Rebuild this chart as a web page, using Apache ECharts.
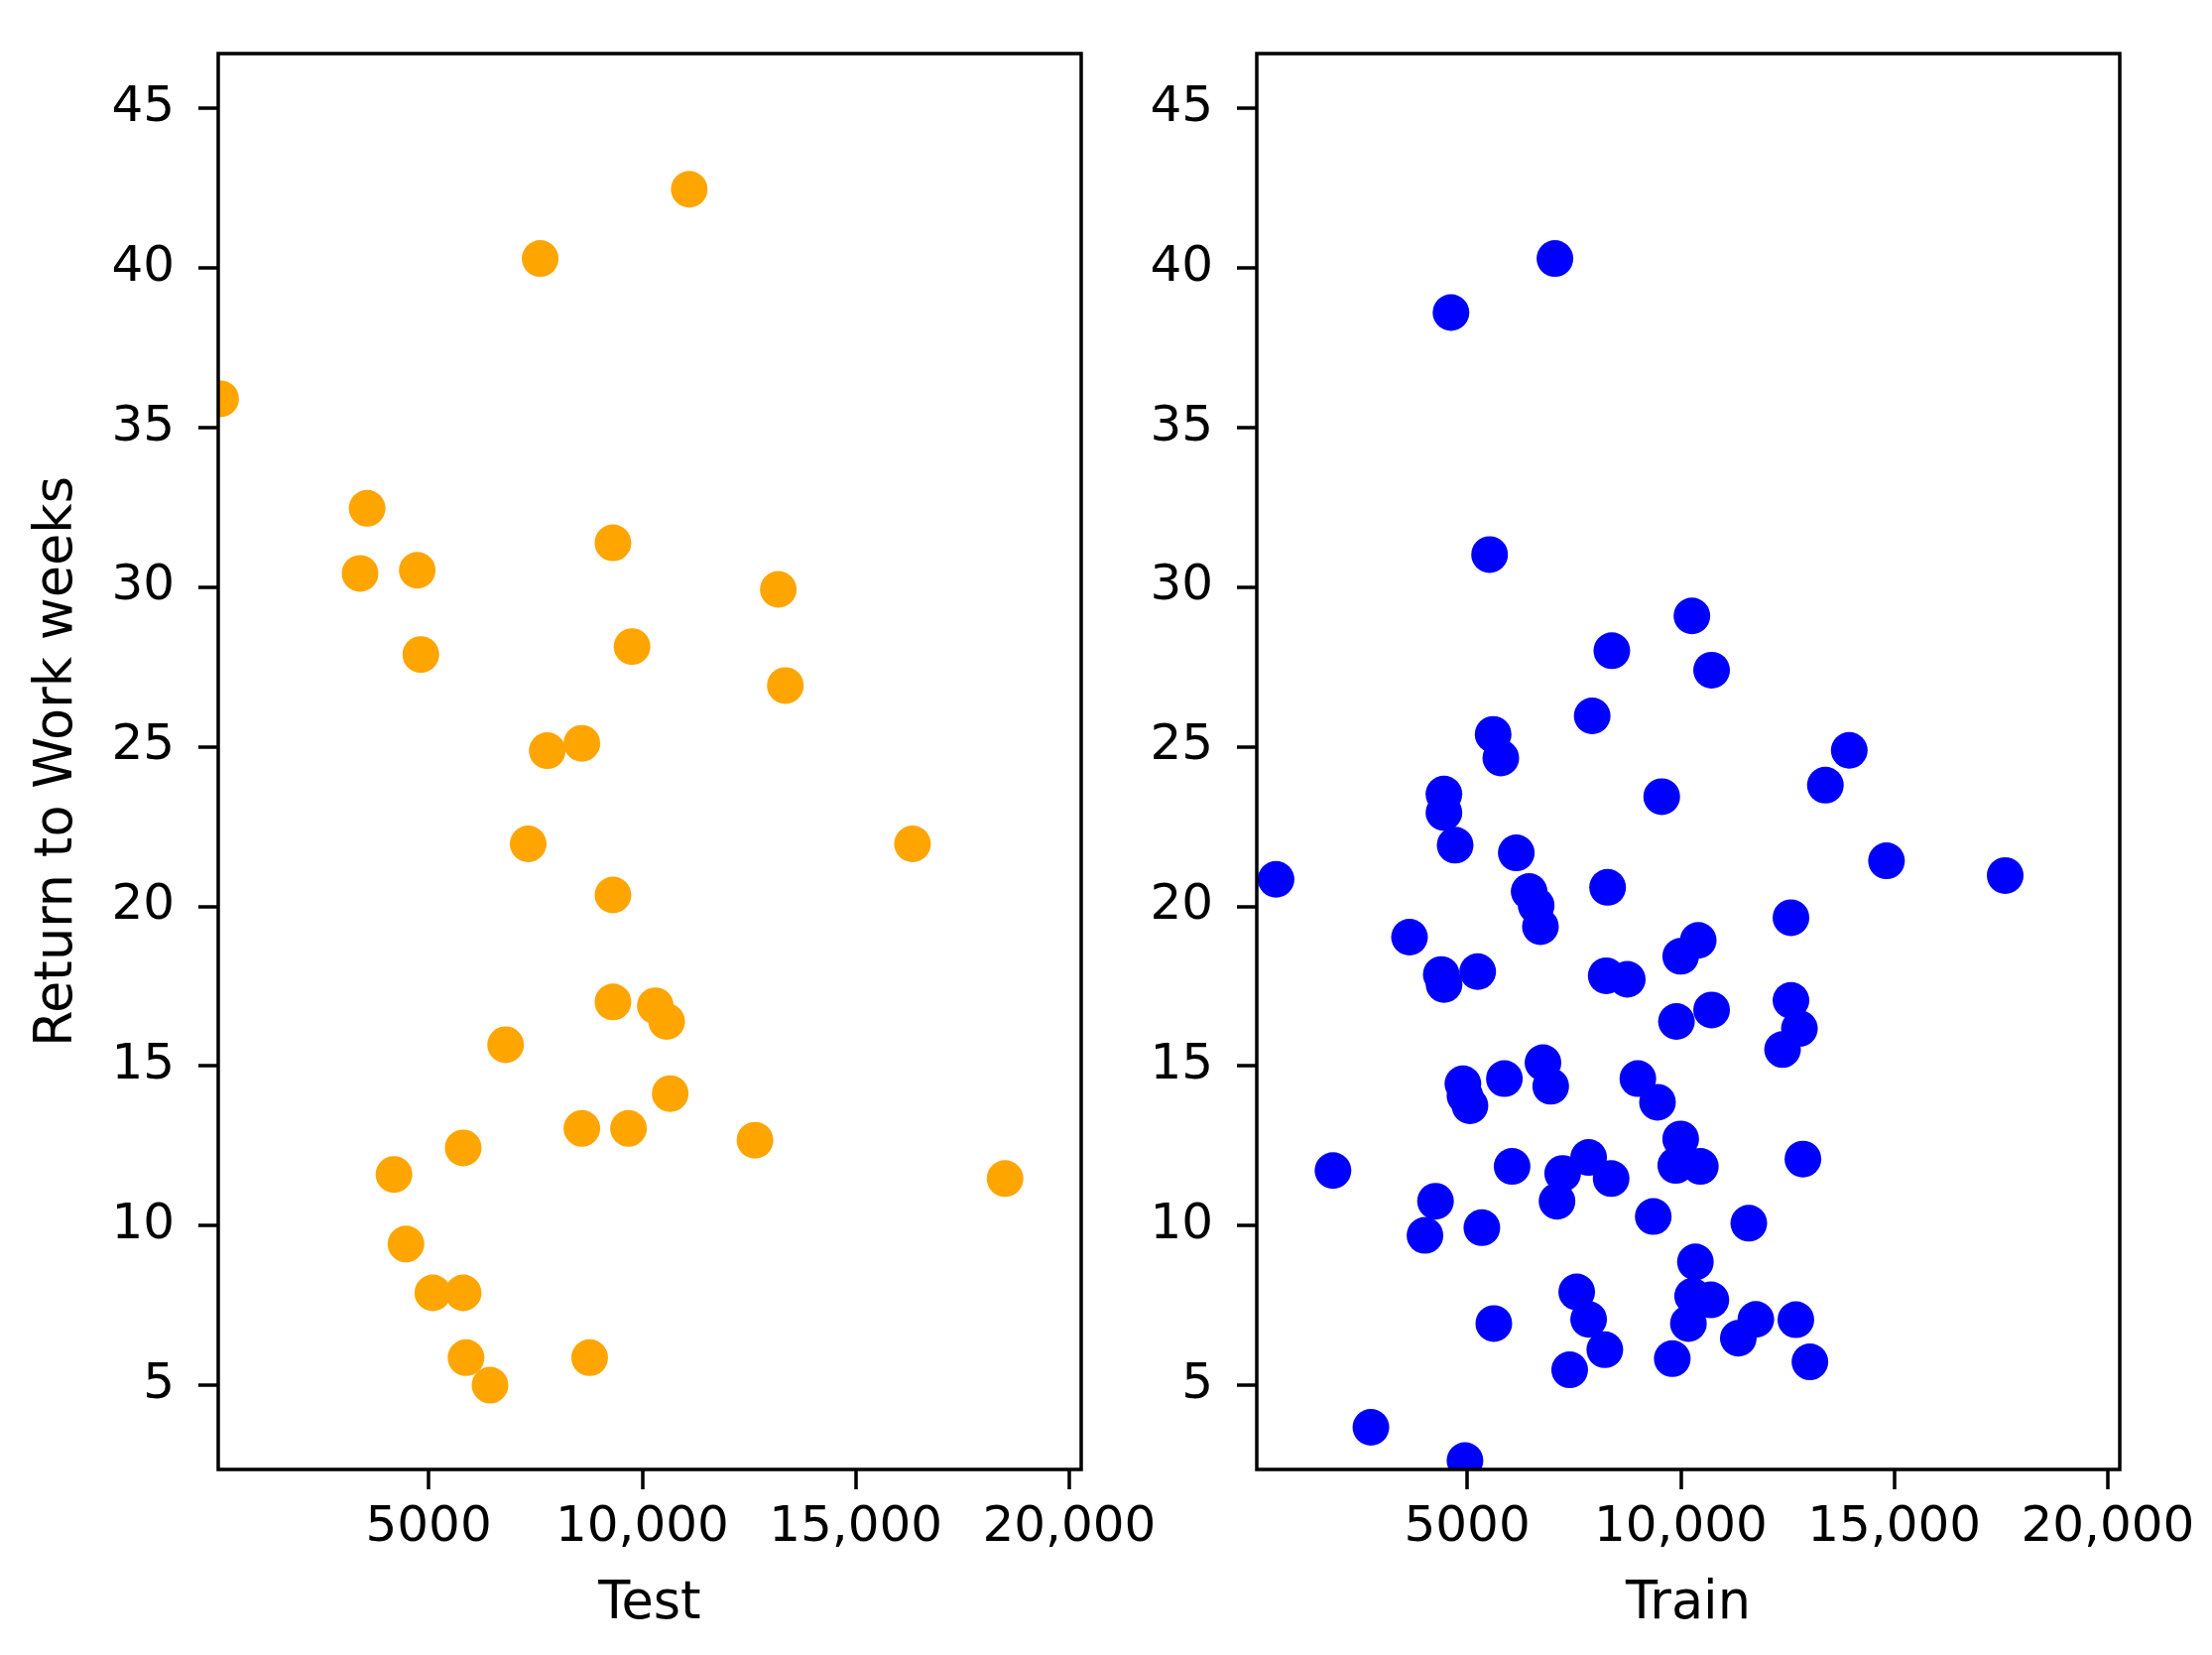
<!DOCTYPE html>
<html>
<head>
<meta charset="utf-8">
<script src="https://cdn.jsdelivr.net/npm/echarts@6/dist/echarts.min.js"></script>
<style>
  html, body { margin: 0; padding: 0; background: #fff; }
  #chart { width: 2230px; height: 1668px; }
</style>
</head>
<body>
<div id="chart"></div>
<script>
// Test set: income (x) vs return-to-work weeks (y)
const testX = [11103, 7613, 130, 3561, 3396, 4735, 9317, 13188, 4818, 9764, 13353, 7779, 8589,
  7332, 16330, 9317, 9317, 10309, 10574, 6803, 10657, 8589, 9681, 12642, 5810, 4190, 18497,
  4471, 5099, 5810, 5877, 6439, 8771];
const testY = [42.45, 40.28, 35.89, 32.46, 30.42, 30.52, 31.38, 29.92, 27.88, 28.13, 26.91, 24.87, 25.1,
  21.95, 21.95, 20.35, 17.0, 16.88, 16.39, 15.66, 14.13, 13.04, 13.04, 12.67, 12.43, 11.6, 11.47,
  9.42, 7.89, 7.89, 5.86, 5.0, 5.86];

// Train set
const trainX = [7056, 4622, 5526, 10263, 8388, 10724, 7928, 5609, 5789, 13947, 13388, 9556, 4457, 4457,
  4720, 526, 6151, 8289, 14819, 17598, 6452, 6617, 6716, 12582, 3651, 10411, 10000, 4395, 4460,
  5247, 8257, 8750, 9901, 10724, 12582, 12780, 12385, 6776, 6957, 5872, 4901, 4950, 5066, 8997,
  9457, 10000, 9885, 10460, 12862, 1859, 6053, 7845, 7237, 8372, 7105, 4260, 4013, 5345, 9358,
  11595, 10345, 10280, 10707, 10181, 7566, 7845, 8224, 5625, 11349, 11760, 12697, 7401, 9803,
  13026, 2747, 4950];
const trainY = [40.28, 38.59, 31.01, 29.09, 28.0, 27.39, 25.96, 25.38, 24.64, 24.88, 23.79, 23.43, 23.51, 22.93,
  21.91, 20.84, 21.67, 20.59, 21.42, 20.96, 20.46, 20.02, 19.36, 19.64, 19.03, 18.93, 18.43, 17.86, 17.55,
  17.95, 17.82, 17.71, 16.39, 16.75, 17.05, 16.17, 15.51, 15.1, 14.36, 14.6, 14.44, 14.06, 13.75, 14.6,
  13.86, 12.71, 11.88, 11.85, 12.08, 11.72, 11.85, 12.13, 11.63, 11.47, 10.76, 10.76, 9.69, 9.93, 10.28,
  10.07, 8.86, 7.79, 7.67, 6.93, 7.92, 7.06, 6.11, 6.93, 6.47, 7.06, 7.05, 5.48, 5.83,
  5.73, 3.68, 2.64];

const xTicks = [5000, 10000, 15000, 20000];
const yTicks = [5, 10, 15, 20, 25, 30, 35, 40, 45];
const xRange = [75, 20280];
const yRange = [2.36, 46.7];

const font = 'DejaVu Sans';
const fontSize = 50;
const nameSize = 52.5;

const zip = (xs, ys) => xs.map((x, i) => [x, ys[i]]);
const fmtX = v => (v >= 10000 ? v.toLocaleString('en-US') : String(v));

function xAxis(idx, name) {
  return {
    type: 'value', gridIndex: idx, name: name,
    min: xRange[0], max: xRange[1],
    nameLocation: 'middle', nameGap: 110,
    nameTextStyle: { fontFamily: font, fontSize: nameSize, color: '#000' },
    axisLine: { show: false },
    axisTick: { show: true, length: 20, lineStyle: { color: '#000', width: 3.5 }, customValues: xTicks },
    axisLabel: { fontFamily: font, fontSize: fontSize, color: '#000', margin: 34, formatter: fmtX, customValues: xTicks },
    splitLine: { show: false }
  };
}

function yAxis(idx, name) {
  return {
    type: 'value', gridIndex: idx, name: name,
    min: yRange[0], max: yRange[1],
    nameLocation: 'middle', nameGap: 135,
    nameTextStyle: { fontFamily: font, fontSize: nameSize, color: '#000' },
    axisLine: { show: false },
    axisTick: { show: true, length: 20, lineStyle: { color: '#000', width: 3.5 }, customValues: yTicks },
    axisLabel: { fontFamily: font, fontSize: fontSize, color: '#000', margin: 44, customValues: yTicks },
    splitLine: { show: false }
  };
}

// circles drawn through the axes, clipped to the plot box like matplotlib
function dots(idx, xs, ys, color) {
  return {
    type: 'custom', xAxisIndex: idx, yAxisIndex: idx,
    data: zip(xs, ys), clip: true,
    encode: { x: 0, y: 1 },
    renderItem: (params, api) => {
      const p = api.coord([api.value(0), api.value(1)]);
      return { type: 'circle', shape: { cx: p[0], cy: p[1], r: 18.5 }, style: { fill: color } };
    }
  };
}

const chart = echarts.init(document.getElementById('chart'), null, { renderer: 'canvas' });
const option = {
  animation: false,
  backgroundColor: '#fff',
  grid: [
    { left: 220, top: 54, width: 870, height: 1427, show: true, borderColor: '#000', borderWidth: 3.5, z: 3 },
    { left: 1267, top: 54, width: 870, height: 1427, show: true, borderColor: '#000', borderWidth: 3.5, z: 3 }
  ],
  xAxis: [xAxis(0, 'Test'), xAxis(1, 'Train')],
  yAxis: [yAxis(0, 'Return to Work weeks'), yAxis(1, '')],
  series: [
    dots(0, testX, testY, '#ffa500'),
    dots(1, trainX, trainY, '#0000ff')
  ]
};
chart.setOption(option);
</script>
</body>
</html>
